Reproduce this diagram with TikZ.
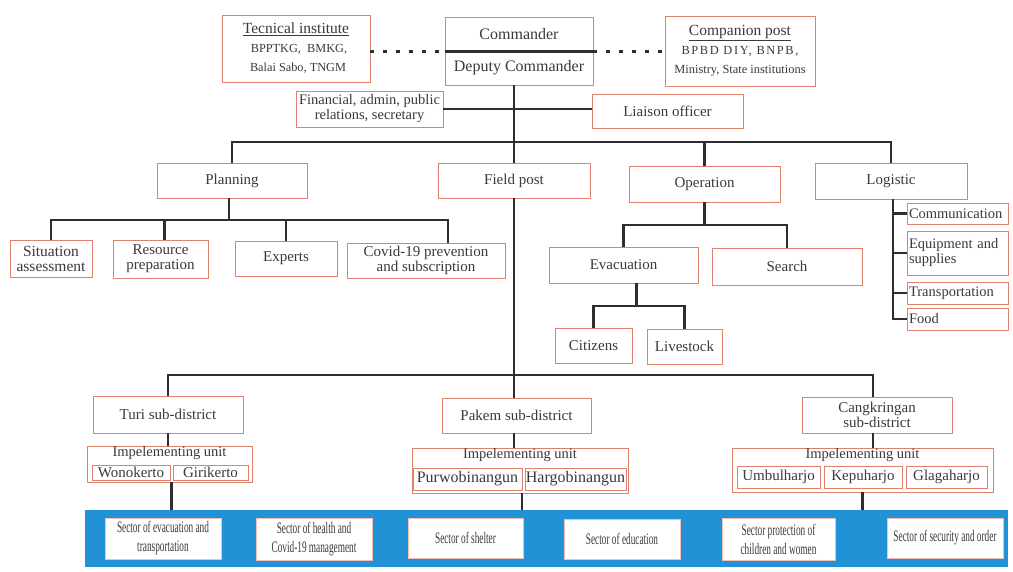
\documentclass[tikz,border=0pt]{standalone}
\usepackage{fontspec}
\setmainfont{Liberation Serif}
\usepackage{graphicx}
\definecolor{bord}{RGB}{226,128,110}
\definecolor{txt}{RGB}{58,58,58}
\definecolor{bandblue}{RGB}{34,146,214}
\newcommand\bx[7][]{\node[box,minimum width={(#4-#2)*1pt},minimum height={(#5-#3)*1pt},#1] (#6) at ({(#2+#4)/2},{(#3+#5)/2}) {#7};}
\newcommand\nar[1]{\scalebox{0.58}[1]{#1}}
\newcommand\fs[1]{\fontsize{#1}{#1}\selectfont}
\tikzset{
  box/.style={draw=bord,line width=0.9pt,fill=white,inner sep=0.5pt,text=txt,align=center,font=\fontsize{15}{15}\selectfont},
  lbox/.style={align=left,inner xsep=2pt,font=\fontsize{14.5}{15}\selectfont},
  secbox/.style={draw=bord!50,line width=0.5pt,font=\fontsize{16}{19}\selectfont},
  bandbox/.style={draw=none,fill=bandblue},
  ln/.style={line width=2.4pt,draw=black!82},
  dsh/.style={line width=2.4pt,draw=black!82,dash pattern=on 4pt off 9pt},
  iulab/.style={label={[anchor=north,yshift=-1pt,inner sep=0pt,text=txt,font=\fontsize{14.5}{14}\selectfont]north:Impelementing unit}}
}
\begin{document}
\begin{tikzpicture}[x=1pt,y=-1pt]
\useasboundingbox[fill=white] (0,0) rectangle (1013,571);
% top row
\bx[font=\fontsize{12.3}{19}\selectfont]{222}{15}{370}{82}{tec}{{\fs{15.5}\underline{Tecnical institute}}\\\hspace*{6pt}BPPTKG,\ \ BMKG,\\\hspace*{4pt}Balai Sabo, TNGM}
\bx[font=\fs{16}]{445}{17}{593}{51}{com}{Commander}
\bx[font=\fs{16}]{445}{51}{593}{85}{dep}{Deputy Commander}
\bx[font=\fontsize{12.4}{19}\selectfont]{665}{16}{815}{86}{cmp}{{\fs{15.5}\underline{Companion post}}\\{\addfontfeature{LetterSpace=13}BPBD DIY, BNPB,}\\Ministry, State institutions}
\bx[font=\fontsize{14.5}{15}\selectfont]{296}{91}{443}{127}{fin}{Financial, admin, public\\relations, secretary}
\bx{592}{94}{743}{128}{lia}{Liaison officer}
% second row
\bx{157}{163}{307}{198}{plan}{Planning}
\bx{438}{163}{590}{198}{field}{Field post}
\bx{629}{166}{780}{202}{op}{Operation}
\bx{815}{163}{967}{199}{log}{Logistic}
% planning children
\bx[font=\fontsize{15.5}{15}\selectfont]{10}{240}{92}{277}{sit}{Situation\\assessment}
\bx{113}{240}{208}{278}{res}{Resource\\preparation}
\bx{235}{241}{337}{276}{exp}{Experts}
\bx{347}{243}{505}{278}{cov}{Covid-19 prevention\\and subscription}
% operation children
\bx{549}{247}{698}{283}{eva}{Evacuation}
\bx{712}{248}{862}{285}{sea}{Search}
\bx{555}{328}{632}{363}{cit}{Citizens}
\bx{647}{329}{722}{364}{liv}{Livestock}
% logistic children
\bx[lbox,text width=97pt]{907}{203}{1008}{224}{comm}{Communication}
\bx[lbox,text width=97pt]{907}{231}{1008}{275}{equ}{Equipment and\\supplies}
\bx[lbox,text width=97pt]{907}{282}{1008}{304}{tra}{Transportation}
\bx[lbox,text width=97pt]{907}{308}{1008}{330}{food}{Food}
% sub-districts
\bx{93}{396}{243}{433}{turi}{Turi sub-district}
\bx{442}{398}{591}{433}{pak}{Pakem sub-district}
\bx{802}{397}{952}{433}{cang}{Cangkringan\\sub-district}
% implementing units
\bx[iulab]{87}{446}{252}{482}{iua}{}
\bx{92}{465}{170}{480}{wono}{Wonokerto}
\bx{173}{465}{248}{480}{giri}{Girikerto}
\bx[iulab]{412}{448}{628}{493}{iub}{}
\bx[font=\fs{16}]{413}{468}{522}{490}{purw}{Purwobinangun}
\bx[font=\fs{16}]{525}{468}{626}{490}{harg}{Hargobinangun}
\bx[iulab]{732}{448}{993}{492}{iuc}{}
\bx{737}{466}{820}{488}{umb}{Umbulharjo}
\bx{824}{466}{902}{488}{kep}{Kepuharjo}
\bx{906}{466}{987}{488}{gla}{Glagaharjo}
% sector band
\bx[bandbox]{85}{510}{1008}{567}{band}{}
\bx[secbox]{105}{518}{221}{559}{sa}{\nar{Sector of evacuation and}\\\nar{transportation}}
\bx[secbox]{256}{518}{372}{560}{sb}{\nar{Sector of health and}\\\nar{Covid-19 management}}
\bx[secbox]{408}{518}{523}{558}{sc}{\nar{Sector of shelter}}
\bx[secbox]{564}{519}{680}{559}{sd}{\nar{Sector of education}}
\bx[secbox]{722}{518}{835}{560}{se}{\nar{Sector protection of}\\\nar{children and women}}
\bx[secbox]{887}{518}{1003}{558}{sf}{\nar{Sector of security and order}}
% connectors
\coordinate (bA) at (0,142);
\coordinate (bP) at (0,220);
\coordinate (bO) at (0,225);
\coordinate (bE) at (0,306);
\coordinate (bL) at (0,375);
\draw[dsh] (tec.east |- com.south) -- (com.south west);
\draw[dsh] (com.south east) -- (com.south east -| cmp.west);
\draw[ln] (com.south west) -- (com.south east);
\draw[ln] (field.north |- dep.south) -- (field.north);
\draw[ln] (fin.east) -- (fin.east -| lia.west);
\draw[ln] (plan.north) |- (bA -| log.north) -- (log.north);
\draw[ln] (op.north) -- (op.north |- bA);
% planning
\draw[ln] ([xshift=-3pt]plan.south) -- ([xshift=-3pt]plan.south |- bP);
\draw[ln] (sit.north) |- ([xshift=22pt]cov.north |- bP) -- ([xshift=22pt]cov.north);
\draw[ln] ([xshift=4pt]res.north) -- ([xshift=4pt]res.north |- bP);
\draw[ln] (exp.north) -- (exp.north |- bP);
% operation
\draw[ln] (op.south) -- (op.south |- bO);
\draw[ln] (eva.north) |- (bO -| sea.north) -- (sea.north);
\draw[ln] ([xshift=13pt]eva.south) -- ([xshift=13pt]eva.south |- bE);
\draw[ln] (cit.north) |- (bE -| liv.north) -- (liv.north);
% logistic
\draw[ln] ([xshift=2pt]log.south) |- (food.west);
\draw[ln] ([xshift=2pt]log.south |- comm.west) -- (comm.west);
\draw[ln] ([xshift=2pt]log.south |- equ.west) -- (equ.west);
\draw[ln] ([xshift=2pt]log.south |- tra.west) -- (tra.west);
% field post to sub-districts
\draw[ln] (field.south) -- (field.south |- pak.north);
\draw[ln] (turi.north) |- ([xshift=-4pt]cang.north |- bL) -- ([xshift=-4pt]cang.north);
\draw[ln] (turi.south) -- (turi.south |- iua.north);
\draw[ln] (field.south |- pak.south) -- (field.south |- iub.north);
\draw[ln] ([xshift=-4pt]cang.south) -- ([xshift=-4pt]cang.south |- iuc.north);
\draw[ln] ([xshift=2pt]iua.south) -- ([xshift=2pt]iua.south |- band.north);
\draw[ln] ([xshift=2pt]iub.south) -- ([xshift=2pt]iub.south |- band.north);
\draw[ln] (iuc.south) -- (iuc.south |- band.north);
\end{tikzpicture}
\end{document}
